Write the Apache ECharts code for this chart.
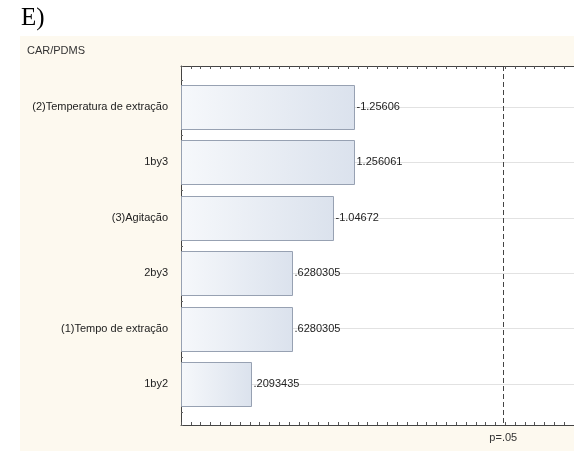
<!DOCTYPE html>
<html>
<head>
<meta charset="utf-8">
<script src="https://cdn.jsdelivr.net/npm/echarts@6/dist/echarts.min.js"></script>
<style>
  html, body { margin: 0; padding: 0; background: #ffffff; }
  #chart { width: 574px; height: 451px; }
</style>
</head>
<body>
<div id="chart"></div>
<script>
// Pareto chart of standardized effects (CAR/PDMS fibre)
const factors = [
  '(2)Temperatura de extração',
  '1by3',
  '(3)Agitação',
  '2by3',
  '(1)Tempo de extração',
  '1by2'
];
const effects = [-1.25606, 1.256061, -1.04672, 0.6280305, 0.6280305, 0.2093435];
const pCritical = 2.776;          // t critical value, p = .05
const pLabel = 'p=.05';
const panelTitle = 'CAR/PDMS';
const figureTag = 'E)';

// Statistica-style number text: drop the leading zero
function effectText(v) {
  return String(v).replace(/^(-?)0\./, '$1.');
}

const FONT = '"Liberation Sans", Arial, sans-serif';
const X_MIN = -0.5, X_MAX = 3.5;
const BAR_H = 44;

const chart = echarts.init(document.getElementById('chart'), null, { renderer: 'canvas' });

// bars run from the left edge of the axis to |effect|
function renderBar(params, api) {
  const idx = api.value(1);
  const raw = api.value(2);
  const end = api.coord([api.value(0), idx]);
  const start = api.coord([X_MIN, idx]);
  const x0 = Math.round(start[0]) + 0.5;
  const x1 = Math.round(end[0]) + 0.5;
  const y0 = Math.round(end[1] - BAR_H / 2) + 0.5;
  return {
    type: 'group',
    children: [
      {
        type: 'rect',
        shape: { x: x0, y: y0, width: x1 - x0, height: BAR_H },
        style: {
          fill: new echarts.graphic.LinearGradient(0, 0, 1, 0, [
            { offset: 0, color: '#f6f8fb' },
            { offset: 1, color: '#dbe2ed' }
          ]),
          stroke: '#97a1b2',
          lineWidth: 1
        }
      },
      {
        type: 'text',
        x: x1 + 2, y: end[1],
        style: {
          text: effectText(raw),
          fill: '#222',
          font: '11px ' + FONT,
          align: 'left',
          verticalAlign: 'middle'
        }
      }
    ]
  };
}

const option = {
  backgroundColor: '#ffffff',
  animation: false,
  graphic: [
    { type: 'rect', z: -10, shape: { x: 20, y: 36, width: 560, height: 420 },
      style: { fill: '#fdf9ef' } },
    { type: 'text', left: 21, top: 6, z: 5,
      style: { text: figureTag, font: '25px "Liberation Serif", "Times New Roman", serif', fill: '#000' } },
    { type: 'text', left: 27, top: 45, z: 5,
      style: { text: panelTitle, font: '11px ' + FONT, fill: '#333' } }
  ],
  grid: [
    // frame of the plot area
    { left: 181, right: -2, top: 66, bottom: 26, show: true,
      backgroundColor: '#ffffff', borderWidth: 0 },
    // bar placement: category centres span from first to last bar
    { left: 181, right: -2, top: 107, bottom: 67 }
  ],
  xAxis: [
    { gridIndex: 0, type: 'value', position: 'bottom', min: X_MIN, max: X_MAX, interval: 0.1,
      axisLine: { show: true, onZero: false, lineStyle: { color: '#444', width: 1 } },
      axisTick: { show: true, inside: true, length: 3, lineStyle: { color: '#555' } },
      axisLabel: { show: false }, splitLine: { show: false } },
    { gridIndex: 0, type: 'value', position: 'top', min: X_MIN, max: X_MAX, interval: 0.1,
      axisLine: { show: true, onZero: false, lineStyle: { color: '#444', width: 1 } },
      axisTick: { show: true, inside: true, length: 3, lineStyle: { color: '#555' } },
      axisLabel: { show: false }, splitLine: { show: false } },
    { gridIndex: 1, type: 'value', min: X_MIN, max: X_MAX, show: false }
  ],
  yAxis: [
    { gridIndex: 0, type: 'value', inverse: true, min: 0, max: 25.92, interval: 1,
      axisLine: { show: true, onZero: false, lineStyle: { color: '#444', width: 1 } },
      axisTick: { show: true, inside: true, length: 2, lineStyle: { color: '#666' } },
      axisLabel: { show: false }, splitLine: { show: false } },
    { gridIndex: 1, type: 'category', data: factors, inverse: true, boundaryGap: false,
      axisLine: { show: false }, axisTick: { show: false },
      axisLabel: { color: '#222', fontFamily: FONT, fontSize: 11, margin: 13 },
      splitLine: { show: true, lineStyle: { color: '#e2e2e2', width: 1 } } }
  ],
  series: [
    {
      type: 'custom',
      xAxisIndex: 2, yAxisIndex: 1,
      clip: false,
      renderItem: renderBar,
      data: effects.map((v, i) => [Math.abs(v), i, v]),
      encode: { x: 0, y: 1 },
      z: 3
    },
    {
      type: 'scatter',
      xAxisIndex: 0, yAxisIndex: 0,
      symbolSize: 0,
      data: [[X_MIN, 0]],
      silent: true,
      markLine: {
        silent: true, symbol: 'none',
        lineStyle: { color: '#444', type: [5, 3], width: 1 },
        label: { show: true, position: 'end', formatter: pLabel, distance: 7,
                 color: '#333', fontFamily: FONT, fontSize: 11 },
        data: [{ xAxis: pCritical }]
      },
      z: 4
    }
  ]
};

chart.setOption(option);
</script>
</body>
</html>
